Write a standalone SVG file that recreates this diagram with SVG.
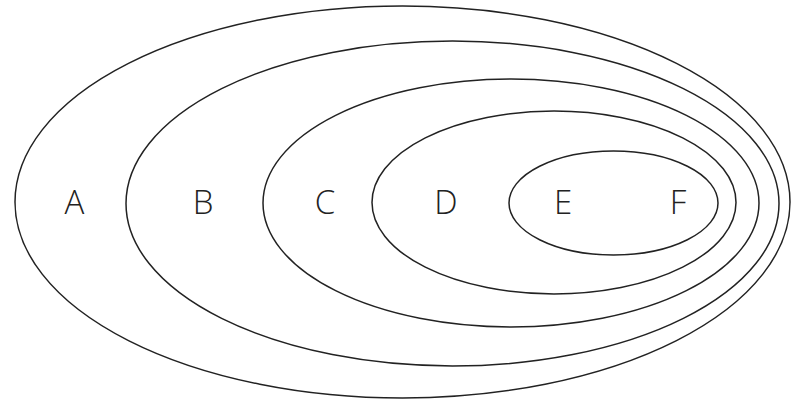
<svg xmlns="http://www.w3.org/2000/svg" width="791" height="402" viewBox="0 0 791 402">
<style>
.set{fill:none;stroke:#222;stroke-width:1.5}
.lbl{font-family:"Open Sans","Liberation Sans",sans-serif;font-weight:300;font-size:33px;fill:#222;text-anchor:middle}
</style>
<rect width="791" height="402" fill="#fff"/>
<g id="A"><ellipse class="set" cx="402.5" cy="202" rx="387.5" ry="196"/><text class="lbl" x="74.5" y="214">A</text></g>
<g id="B"><ellipse class="set" cx="452.5" cy="203.5" rx="326.5" ry="162.5"/><text class="lbl" x="203" y="214">B</text></g>
<g id="C"><ellipse class="set" cx="511" cy="203" rx="248" ry="124"/><text class="lbl" x="325" y="214">C</text></g>
<g id="D"><ellipse class="set" cx="554" cy="202.5" rx="182" ry="91.5"/><text class="lbl" x="446" y="214">D</text></g>
<g id="E"><ellipse class="set" cx="613.5" cy="203" rx="104.5" ry="52"/><text class="lbl" x="563" y="214">E</text></g>
<g id="F"><text class="lbl" x="678" y="214">F</text></g>
<g id="connectors"></g>
</svg>
